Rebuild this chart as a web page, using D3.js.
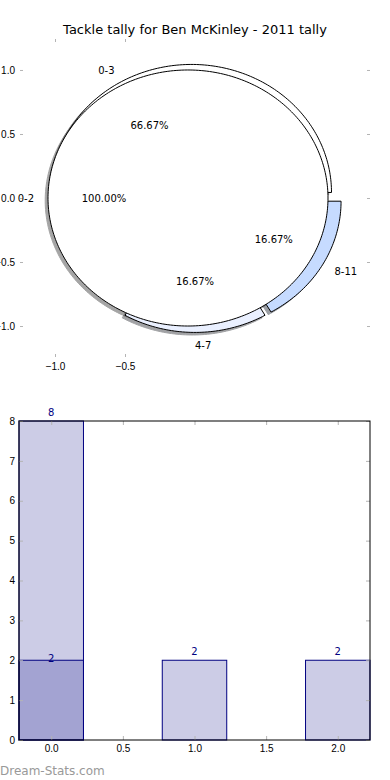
<!DOCTYPE html>
<html>
<head>
<meta charset="utf-8">
<script src="https://cdnjs.cloudflare.com/ajax/libs/d3/7.8.5/d3.min.js"></script>
<style>
  body { margin: 0; background: #fff; }
  svg { display: block; font-family: "DejaVu Sans", sans-serif; }
  .tick line { stroke: #b4b4b4; }
  .tick text { fill: #000; font-size: 10px; }
</style>
</head>
<body>
<div id="chart"></div>
<script>
// pie: two pies drawn on the same axes
var outerLabels = ['0-3', '4-7', '8-11'];
var outerValues = [4, 1, 1];
var outerColors = ['#ffffff', '#eaf0ff', '#c6dbff'];

var innerLabels = ['0-2'];
var innerValues = [1];
var innerColors = ['#ffffff'];

// bars
var barX = [0, 1, 2];
var tallyA = [8, 2, 2];
var tallyB = [2];

var pieXTicks = [-1.0, -0.5];
var pieYTicks = [-1.0, -0.5, 0.0, 0.5, 1.0];
var barXTicks = [0, 0.5, 1.0, 1.5, 2.0];
var barYTicks = [0, 1, 2, 3, 4, 5, 6, 7, 8];

var W = 390, H = 780;
var svg = d3.select("#chart").append("svg")
  .attr("width", W)
  .attr("height", H);

svg.append("text")
  .attr("x", 195)
  .attr("y", 34)
  .attr("text-anchor", "middle")
  .style("font-size", "13px")
  .text("Tackle tally for Ben McKinley - 2011 tally");

// ---- pie axes ----
var pieDim = { left: 20, right: 370, top: 39, bottom: 357 };
var px = d3.scaleLinear().domain([-1.25, 1.25]).range([pieDim.left, pieDim.right]);
var py = d3.scaleLinear().domain([-1.242, 1.242]).range([pieDim.bottom, pieDim.top]);

var fmt = d3.format(".1f");
function tickAxis(g, axis) {
  g.call(axis);
  g.select(".domain").remove();
}
svg.append("g").attr("transform", "translate(" + pieDim.left + ",0)")
  .call(tickAxis, d3.axisLeft(py).tickValues(pieYTicks).tickFormat(fmt).tickSize(-3).tickPadding(5));
svg.append("g").attr("transform", "translate(" + pieDim.right + ",0)")
  .call(tickAxis, d3.axisRight(py).tickValues(pieYTicks).tickFormat("").tickSize(-3));
svg.append("g").attr("transform", "translate(0," + pieDim.bottom + ")")
  .call(tickAxis, d3.axisBottom(px).tickValues(pieXTicks).tickFormat(fmt).tickSize(-3).tickPadding(6));
svg.append("g").attr("transform", "translate(0," + pieDim.top + ")")
  .call(tickAxis, d3.axisTop(px).tickValues(pieXTicks).tickFormat("").tickSize(-3));

var explode = 0.05;
var pieGen = d3.pie().sort(null).startAngle(0).endAngle(2 * Math.PI);
var wedgeLine = d3.line().x(function(d) { return px(d[0]); }).y(function(d) { return py(d[1]); });

function wedgePath(cx, cy, a0, a1) {
  var n = Math.max(8, Math.ceil((a1 - a0) / 0.02));
  var pts = d3.range(n + 1).map(function(i) {
    var a = a0 + (a1 - a0) * i / n;
    return [cx + Math.cos(a), cy + Math.sin(a)];
  });
  var full = (a1 - a0) > 2 * Math.PI - 1e-6;
  if (!full) pts = [[cx, cy]].concat(pts);
  return wedgeLine(pts) + "Z";
}

function buildPie(labels, values, colors) {
  var total = d3.sum(values);
  return pieGen(values).map(function(d, i) {
    var mid = (d.startAngle + d.endAngle) / 2;
    return {
      label: labels[i],
      pct: 100 * d.value / total,
      color: colors[i],
      a0: d.startAngle,
      a1: d.endAngle,
      mid: mid,
      cx: explode * Math.cos(mid),
      cy: explode * Math.sin(mid)
    };
  });
}

var pies = [buildPie(outerLabels, outerValues, outerColors),
            buildPie(innerLabels, innerValues, innerColors)];

function shadeColor(c) {
  var rgb = d3.rgb(c);
  return d3.rgb(rgb.r * 0.3, rgb.g * 0.3, rgb.b * 0.3).toString();
}

var pieG = svg.append("g");
// shadows sit below every wedge
pies.forEach(function(p) {
  pieG.selectAll(null).data(p).enter().append("path")
    .attr("d", function(d) { return wedgePath(d.cx - 0.02, d.cy - 0.02, d.a0, d.a1); })
    .attr("fill", function(d) { return shadeColor(d.color); })
    .attr("stroke", function(d) { return shadeColor(d.color); })
    .attr("opacity", 0.5);
});
pies.forEach(function(p) {
  pieG.selectAll(null).data(p).enter().append("path")
    .attr("d", function(d) { return wedgePath(d.cx, d.cy, d.a0, d.a1); })
    .attr("fill", function(d) { return d.color; })
    .attr("stroke", "#000")
    .attr("stroke-width", 1)
    .attr("stroke-linejoin", "round");
});
pies.forEach(function(p) {
  pieG.selectAll(null).data(p).enter().append("text")
    .attr("x", function(d) { return px(d.cx + 1.1 * Math.cos(d.mid)); })
    .attr("y", function(d) { return py(d.cy + 1.1 * Math.sin(d.mid)); })
    .attr("dy", "0.35em")
    .attr("text-anchor", function(d) { return Math.cos(d.mid) > -1e-9 ? "start" : "end"; })
    .style("font-size", "10px")
    .text(function(d) { return d.label; });
  pieG.selectAll(null).data(p).enter().append("text")
    .attr("x", function(d) { return px(d.cx + 0.6 * Math.cos(d.mid)); })
    .attr("y", function(d) { return py(d.cy + 0.6 * Math.sin(d.mid)); })
    .attr("dy", "0.35em")
    .attr("text-anchor", "middle")
    .style("font-size", "10px")
    .text(function(d) { return d3.format(".2f")(d.pct) + "%"; });
});

// ---- bar axes ----
var barDim = { left: 19, right: 370, top: 421, bottom: 740, width: 0.45 };
var bx = d3.scaleLinear().domain([-0.225, 2.225]).range([barDim.left, barDim.right]);
var by = d3.scaleLinear().domain([0, 8]).range([barDim.bottom, barDim.top]);

function drawBars(vals, labelDy) {
  var data = vals.map(function(v, i) { return { x: barX[i], v: v }; });
  svg.append("g").selectAll("rect").data(data).enter().append("rect")
    .attr("x", function(d) { return bx(d.x - barDim.width / 2); })
    .attr("width", function(d) { return bx(d.x + barDim.width / 2) - bx(d.x - barDim.width / 2); })
    .attr("y", function(d) { return by(d.v); })
    .attr("height", function(d) { return by(0) - by(d.v); })
    .attr("fill", "#000080")
    .attr("fill-opacity", 0.2)
    .attr("stroke", "#000080")
    .attr("stroke-width", 1);
  svg.append("g").selectAll("text").data(data).enter().append("text")
    .attr("x", function(d) { return bx(d.x); })
    .attr("y", function(d) { return by(d.v) + labelDy; })
    .attr("text-anchor", "middle")
    .style("font-size", "10px")
    .style("fill", "#000080")
    .text(function(d) { return d.v; });
}
drawBars(tallyA, -5);
drawBars(tallyB, 2);

svg.append("g").attr("transform", "translate(" + barDim.left + ",0)")
  .call(tickAxis, d3.axisLeft(by).tickValues(barYTicks).tickFormat(d3.format("d")).tickSize(-4).tickPadding(4));
svg.append("g").attr("transform", "translate(" + barDim.right + ",0)")
  .call(tickAxis, d3.axisRight(by).tickValues(barYTicks).tickFormat("").tickSize(-4));
svg.append("g").attr("transform", "translate(0," + barDim.bottom + ")")
  .call(tickAxis, d3.axisBottom(bx).tickValues(barXTicks).tickFormat(fmt).tickSize(-4).tickPadding(5));
svg.append("g").attr("transform", "translate(0," + barDim.top + ")")
  .call(tickAxis, d3.axisTop(bx).tickValues(barXTicks).tickFormat("").tickSize(-4));

svg.append("rect")
  .attr("x", barDim.left)
  .attr("y", barDim.top)
  .attr("width", barDim.right - barDim.left)
  .attr("height", barDim.bottom - barDim.top)
  .attr("fill", "none")
  .attr("stroke", "#000")
  .attr("stroke-width", 1);

svg.append("text")
  .attr("x", 0)
  .attr("y", 775)
  .style("font-size", "12px")
  .style("fill", "#999")
  .text("Dream-Stats.com");
</script>
</body>
</html>
